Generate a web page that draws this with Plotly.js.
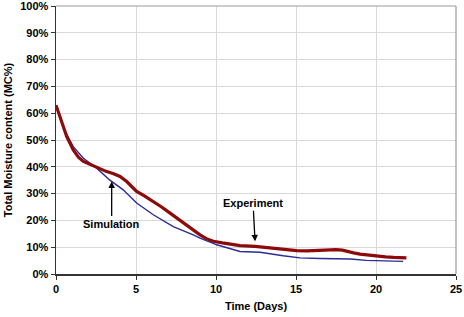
<!DOCTYPE html>
<html>
<head>
<meta charset="utf-8">
<script src="https://cdn.plot.ly/plotly-3.0.1.min.js"></script>
<style>html,body{margin:0;padding:0;background:#fff;}#chart{width:464px;height:317px;}</style>
</head>
<body>
<div id="chart"></div>
<script>
// Experiment (days, MC%)
const expDays = [0, 0.3, 0.67, 1.08, 1.4, 1.71, 2.0, 2.33, 2.8, 3.17, 3.6, 4.0, 4.42, 4.7, 5.04, 5.5, 6.08, 6.6, 7.13, 7.6, 8.17, 8.6, 9.0, 9.4, 9.83, 10.4, 11.08, 11.5, 12.44, 13.1, 13.8, 14.4, 15.04, 15.7, 16.3, 16.9, 17.5, 17.9, 18.2, 18.6, 19.0, 19.5, 20.04, 20.6, 21.1, 21.5, 21.9];
const expMC   = [63, 57.5, 51.3, 46.3, 43.6, 42, 41.2, 40.4, 39.3, 38.2, 37.4, 36.4, 34.5, 32.8, 30.8, 29.2, 27.1, 25, 22.7, 20.6, 18.4, 16.4, 14.6, 13.2, 12.2, 11.6, 11.1, 10.6, 10.3, 9.9, 9.4, 9.0, 8.7, 8.6, 8.8, 9.0, 9.1, 8.9, 8.4, 7.9, 7.4, 7.0, 6.6, 6.4, 6.2, 6.1, 6.0];
// Simulation (days, MC%)
const simDays = [0, 0.5, 1.08, 1.71, 2.54, 3.35, 4.2, 5.04, 6.08, 7.33, 8.58, 9.0, 9.83, 10.04, 11.5, 12.75, 14.2, 15.25, 16.5, 18.4, 19.4, 20.5, 21.7];
const simMC   = [63, 54, 47.5, 43.2, 39.5, 35.1, 31.4, 26.5, 22.1, 17.7, 14.6, 13.4, 11.4, 10.9, 8.4, 8.1, 6.8, 6.0, 5.8, 5.6, 5.1, 4.9, 4.7];

const yTicks = [0, 10, 20, 30, 40, 50, 60, 70, 80, 90, 100];
const xTicks = [0, 5, 10, 15, 20, 25];

const font = {family: 'Liberation Sans, Arial, sans-serif', size: 11, color: '#000'};

const traces = [
  {x: simDays, y: simMC, mode: 'lines', name: 'Simulation', line: {color: '#2b2b96', width: 1.4}, hoverinfo: 'skip'},
  {x: expDays, y: expMC, mode: 'lines', name: 'Experiment', line: {color: '#8c0a0a', width: 3.2}, hoverinfo: 'skip'}
];

const layout = {
  width: 464, height: 317,
  margin: {l: 56, r: 8, t: 6, b: 43},
  paper_bgcolor: '#fff', plot_bgcolor: '#fff',
  showlegend: false,
  font: font,
  xaxis: {
    range: [0, 25], tickvals: xTicks, ticktext: xTicks.map(String),
    showgrid: true, gridcolor: '#d9d9d9', gridwidth: 1,
    showline: true, linecolor: '#333', linewidth: 1.5,
    ticks: 'outside', ticklen: 4, tickcolor: '#333',
    zeroline: false, ticklabeloverflow: 'allow',
    tickfont: {family: font.family, size: 11, color: '#000', weight: 'bold'},
    title: {text: '<b>Time (Days)</b>', font: {family: font.family, size: 11, color: '#000'}, standoff: 8}
  },
  yaxis: {
    range: [0, 100], tickvals: yTicks, ticktext: yTicks.map(v => v + '%'),
    showgrid: true, gridcolor: '#d9d9d9', gridwidth: 1,
    showline: true, linecolor: '#333', linewidth: 1.5,
    ticks: 'outside', ticklen: 4, tickcolor: '#333',
    zeroline: false, ticklabeloverflow: 'allow',
    tickfont: {family: font.family, size: 11, color: '#000', weight: 'bold'},
    title: {text: '<b>Total Moisture content (MC%)</b>', font: {family: font.family, size: 11, color: '#000'}, standoff: 5}
  },
  shapes: [
    {type: 'line', xref: 'paper', yref: 'paper', x0: 0, x1: 1, y0: 1, y1: 1, line: {color: '#999', width: 1.2}},
    {type: 'line', xref: 'paper', yref: 'paper', x0: 1, x1: 1, y0: 0, y1: 1, line: {color: '#999', width: 1.2}}
  ],
  annotations: [
    {x: 3.48, y: 34.5, xref: 'x', yref: 'y', text: '<b>Simulation</b>', showarrow: true,
     ax: 0, ay: 42, arrowhead: 2, arrowsize: 1, arrowwidth: 1.3, arrowcolor: '#000', standoff: 0,
     font: {family: font.family, size: 11, color: '#000'}},
    {x: 12.44, y: 12.2, xref: 'x', yref: 'y', text: '<b>Experiment</b>', showarrow: true,
     ax: -2, ay: -38, arrowhead: 2, arrowsize: 1, arrowwidth: 1.3, arrowcolor: '#000', standoff: 0,
     font: {family: font.family, size: 11, color: '#000'}}
  ]
};

Plotly.newPlot('chart', traces, layout, {staticPlot: true, displayModeBar: false});
</script>
</body>
</html>
